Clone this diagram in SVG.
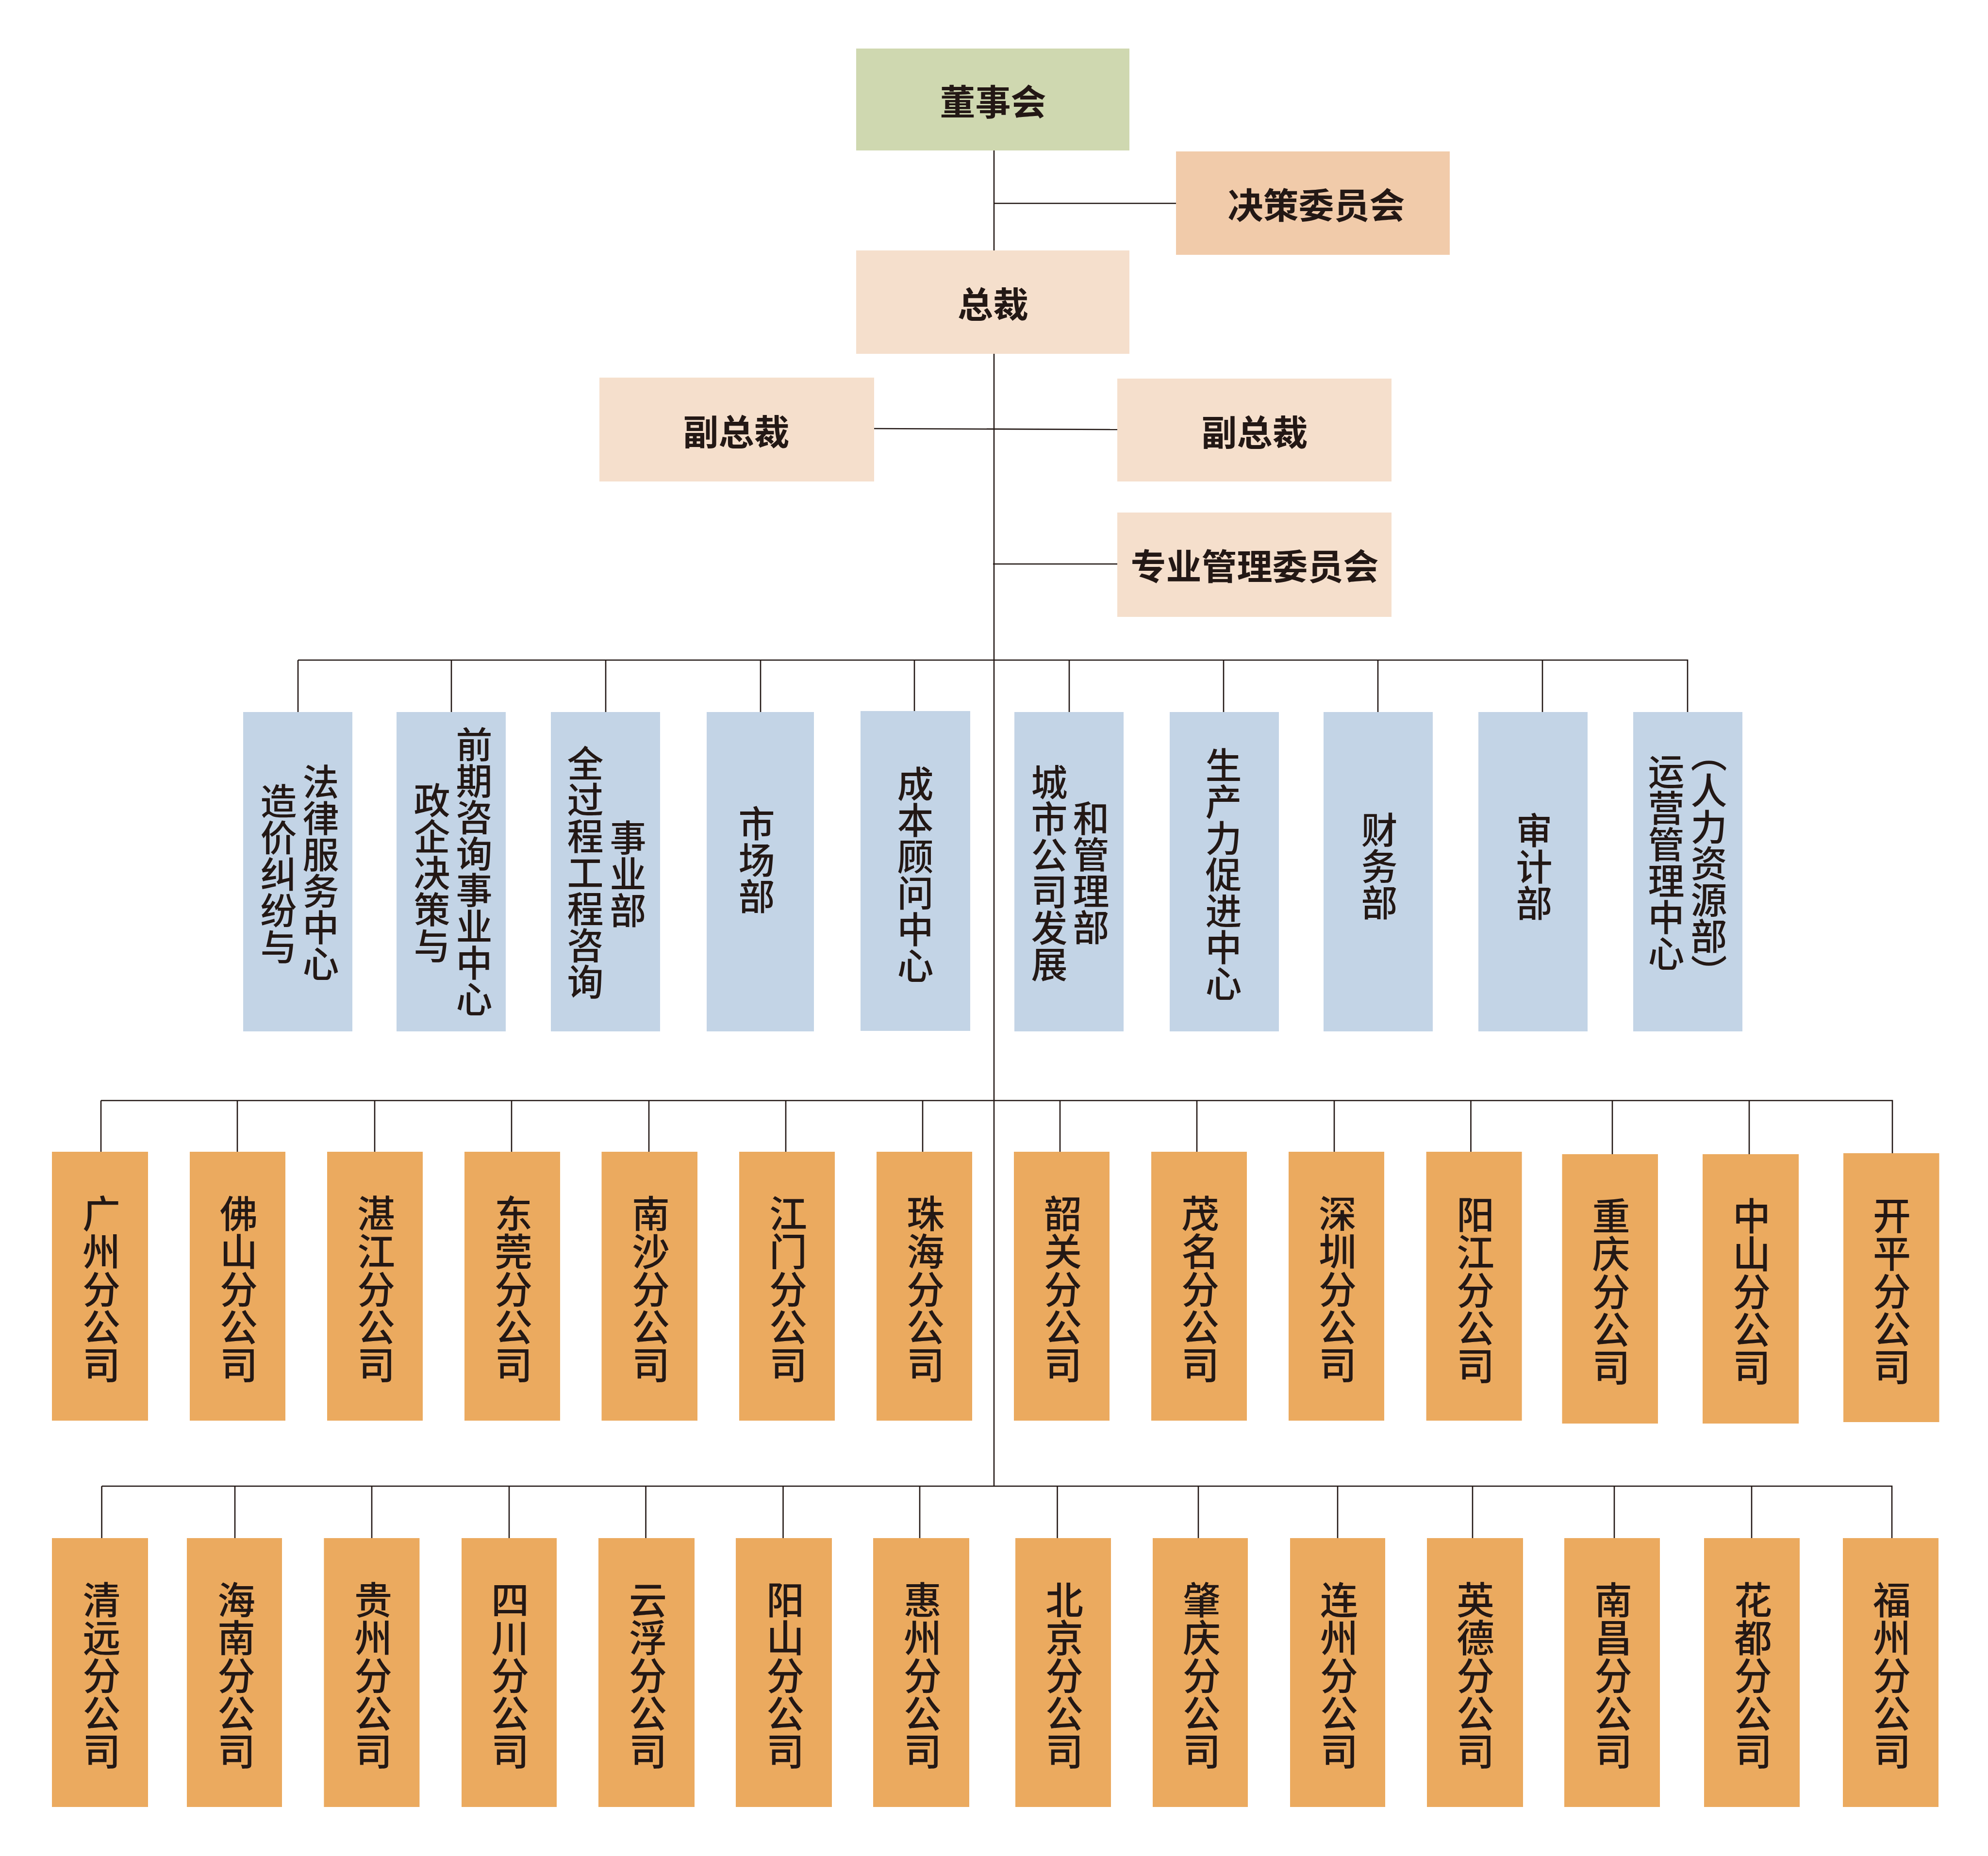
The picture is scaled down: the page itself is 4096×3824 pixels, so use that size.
<svg xmlns="http://www.w3.org/2000/svg" width="4096" height="3824" viewBox="0 0 4096 3824">
<style>
.t{font-family:"Noto Sans CJK SC","Noto Sans CJK JP",sans-serif;fill:#231815}
.top{font-size:73px;font-weight:700;text-anchor:middle;dominant-baseline:central}
.v{writing-mode:vertical-rl;text-anchor:middle;font-weight:500}
.dv{font-size:75px}
.bv{font-size:78px}
.ln{stroke:#231815;stroke-width:2.6;fill:none}
.g{fill:#cfd8b0}.j{fill:#f1cbaa}.p{fill:#f5dfcc}.b{fill:#c3d4e6}.o{fill:#ebaa5f}
</style>
<rect width="4096" height="3824" fill="#ffffff"/>
<g id="connectors">
<path class="ln" d="M2048 310V3062"/>
<path class="ln" d="M2048 419H2423"/>
<path class="ln" d="M1801 883L2302 885"/>
<path class="ln" d="M2046 1162H2302"/>
<path class="ln" d="M614 1360H3477V1467M614 1360V1467M930 1360V1467M1248 1360V1467M1567 1360V1467M1884 1360V1465M2203 1360V1467M2521 1360V1467M2839 1360V1467M3178 1360V1467"/>
<path class="ln" d="M208 2267.5H3899V2376M208 2267.5V2373M489 2267.5V2373M772 2267.5V2373M1054 2267.5V2373M1337 2267.5V2373M1619 2267.5V2373M1901 2267.5V2373M2184 2267.5V2373M2466 2267.5V2373M2749 2267.5V2373M3030.5 2267.5V2373M3322 2267.5V2378M3604 2267.5V2378"/>
<path class="ln" d="M209.6 3062H3898V3169M209.6 3062V3169M484 3062V3169M766 3062V3169M1049 3062V3169M1330.6 3062V3169M1613.5 3062V3169M1895 3062V3169M2178.5 3062V3169M2469 3062V3169M2756 3062V3169M3034 3062V3169M3326 3062V3169M3609 3062V3169"/>
</g>
<g id="n-dongshihui"><rect class="g" x="1764" y="100" width="563" height="210"/><text class="t top" x="2046" y="205">董事会</text></g>
<g id="n-juece"><rect class="j" x="2423" y="312" width="564" height="213"/><text class="t top" x="2712" y="418">决策委员会</text></g>
<g id="n-zongcai"><rect class="p" x="1764" y="516" width="563" height="213"/><text class="t top" x="2046" y="622">总裁</text></g>
<g id="n-fuzongcai-1"><rect class="p" x="1235" y="778" width="566" height="214"/><text class="t top" x="1517" y="885">副总裁</text></g>
<g id="n-fuzongcai-2"><rect class="p" x="2302" y="780" width="565" height="212"/><text class="t top" x="2585" y="886">副总裁</text></g>
<g id="n-zhuanye"><rect class="p" x="2302" y="1056" width="565" height="215"/><text class="t top" x="2585" y="1162">专业管理委员会</text></g>

<g id="d-falv"><rect class="b" x="501" y="1467" width="225" height="658"/><text class="t v dv"><tspan x="574" y="1800">造价纠纷与</tspan><tspan x="661" y="1798">法律服务中心</tspan></text></g>
<g id="d-qianqi"><rect class="b" x="817" y="1467" width="225" height="658"/><text class="t v dv"><tspan x="890" y="1798">政企决策与</tspan><tspan x="977" y="1796">前期咨询事业中心</tspan></text></g>
<g id="d-quanguocheng"><rect class="b" x="1135" y="1467" width="225" height="658"/><text class="t v dv"><tspan x="1206" y="1797">全过程工程咨询</tspan><tspan x="1294" y="1800">事业部</tspan></text></g>
<g id="d-shichang"><rect class="b" x="1456" y="1467" width="221" height="658"/><text class="t v dv" x="1559" y="1771">市场部</text></g>
<g id="d-chengben"><rect class="b" x="1773" y="1465" width="226" height="659"/><text class="t v dv" x="1886" y="1802">成本顾问中心</text></g>
<g id="d-chengshi"><rect class="b" x="2090" y="1467" width="225" height="658"/><text class="t v dv"><tspan x="2162" y="1799">城市公司发展</tspan><tspan x="2248" y="1798">和管理部</tspan></text></g>
<g id="d-shengchanli"><rect class="b" x="2410" y="1467" width="225" height="658"/><text class="t v dv" x="2521" y="1801">生产力促进中心</text></g>
<g id="d-caiwu"><rect class="b" x="2727" y="1467" width="225" height="658"/><text class="t v dv" x="2842" y="1784">财务部</text></g>
<g id="d-shenji"><rect class="b" x="3046" y="1467" width="225" height="658"/><text class="t v dv" x="3161" y="1785">审计部</text></g>
<g id="d-yunying"><rect class="b" x="3365" y="1467" width="225" height="658"/><text class="t v dv"><tspan x="3433" y="1777">运营管理中心</tspan><tspan x="3521" y="1778">（人力资源部）</tspan></text></g>

<g id="b-guangzhou"><rect class="o" x="107" y="2373" width="198" height="554"/><text class="t v bv" x="209" y="2656">广州分公司</text></g>
<g id="b-foshan"><rect class="o" x="391" y="2373" width="197" height="554"/><text class="t v bv" x="492" y="2656">佛山分公司</text></g>
<g id="b-zhanjiang"><rect class="o" x="674" y="2373" width="197" height="554"/><text class="t v bv" x="775" y="2656">湛江分公司</text></g>
<g id="b-dongguan"><rect class="o" x="957" y="2373" width="197" height="554"/><text class="t v bv" x="1058" y="2656">东莞分公司</text></g>
<g id="b-nansha"><rect class="o" x="1239.5" y="2373" width="197.5" height="554"/><text class="t v bv" x="1341" y="2656">南沙分公司</text></g>
<g id="b-jiangmen"><rect class="o" x="1523" y="2373" width="197" height="554"/><text class="t v bv" x="1624" y="2656">江门分公司</text></g>
<g id="b-zhuhai"><rect class="o" x="1806" y="2373" width="197" height="554"/><text class="t v bv" x="1907" y="2656">珠海分公司</text></g>
<g id="b-shaoguan"><rect class="o" x="2089" y="2373" width="197" height="554"/><text class="t v bv" x="2190" y="2656">韶关分公司</text></g>
<g id="b-maoming"><rect class="o" x="2372" y="2373" width="197" height="554"/><text class="t v bv" x="2473" y="2656">茂名分公司</text></g>
<g id="b-shenzhen"><rect class="o" x="2655" y="2373" width="197" height="554"/><text class="t v bv" x="2756" y="2656">深圳分公司</text></g>
<g id="b-yangjiang"><rect class="o" x="2938.6" y="2373" width="197" height="554"/><text class="t v bv" x="3040" y="2658">阳江分公司</text></g>
<g id="b-chongqing"><rect class="o" x="3218.5" y="2378" width="197.5" height="555"/><text class="t v bv" x="3319.5" y="2661">重庆分公司</text></g>
<g id="b-zhongshan"><rect class="o" x="3508" y="2378" width="198" height="555"/><text class="t v bv" x="3609" y="2661">中山分公司</text></g>
<g id="b-kaiping"><rect class="o" x="3798" y="2376" width="197.5" height="554"/><text class="t v bv" x="3898" y="2660">开平分公司</text></g>

<g id="b-qingyuan"><rect class="o" x="107" y="3169" width="198" height="554"/><text class="t v bv" x="209.6" y="3452">清远分公司</text></g>
<g id="b-hainan"><rect class="o" x="385" y="3169" width="196" height="554"/><text class="t v bv" x="487" y="3452">海南分公司</text></g>
<g id="b-guizhou"><rect class="o" x="667.4" y="3169" width="197" height="554"/><text class="t v bv" x="769" y="3452">贵州分公司</text></g>
<g id="b-sichuan"><rect class="o" x="951" y="3169" width="196" height="554"/><text class="t v bv" x="1051" y="3452">四川分公司</text></g>
<g id="b-yunfu"><rect class="o" x="1233" y="3169" width="198" height="554"/><text class="t v bv" x="1335" y="3452">云浮分公司</text></g>
<g id="b-yangshan"><rect class="o" x="1516" y="3169" width="198" height="554"/><text class="t v bv" x="1618" y="3452">阳山分公司</text></g>
<g id="b-huizhou"><rect class="o" x="1799" y="3169" width="198" height="554"/><text class="t v bv" x="1901" y="3452">惠州分公司</text></g>
<g id="b-beijing"><rect class="o" x="2092" y="3169" width="197" height="554"/><text class="t v bv" x="2193" y="3452">北京分公司</text></g>
<g id="b-zhaoqing"><rect class="o" x="2375" y="3169" width="196" height="554"/><text class="t v bv" x="2476" y="3452">肇庆分公司</text></g>
<g id="b-lianzhou"><rect class="o" x="2658" y="3169" width="196" height="554"/><text class="t v bv" x="2759" y="3452">连州分公司</text></g>
<g id="b-yingde"><rect class="o" x="2940" y="3169" width="198" height="554"/><text class="t v bv" x="3040" y="3452">英德分公司</text></g>
<g id="b-nanchang"><rect class="o" x="3223" y="3169" width="197" height="554"/><text class="t v bv" x="3324" y="3452">南昌分公司</text></g>
<g id="b-huadu"><rect class="o" x="3511" y="3169" width="197" height="554"/><text class="t v bv" x="3612" y="3452">花都分公司</text></g>
<g id="b-fuzhou"><rect class="o" x="3797" y="3169" width="197" height="554"/><text class="t v bv" x="3898" y="3452">福州分公司</text></g>
</svg>
